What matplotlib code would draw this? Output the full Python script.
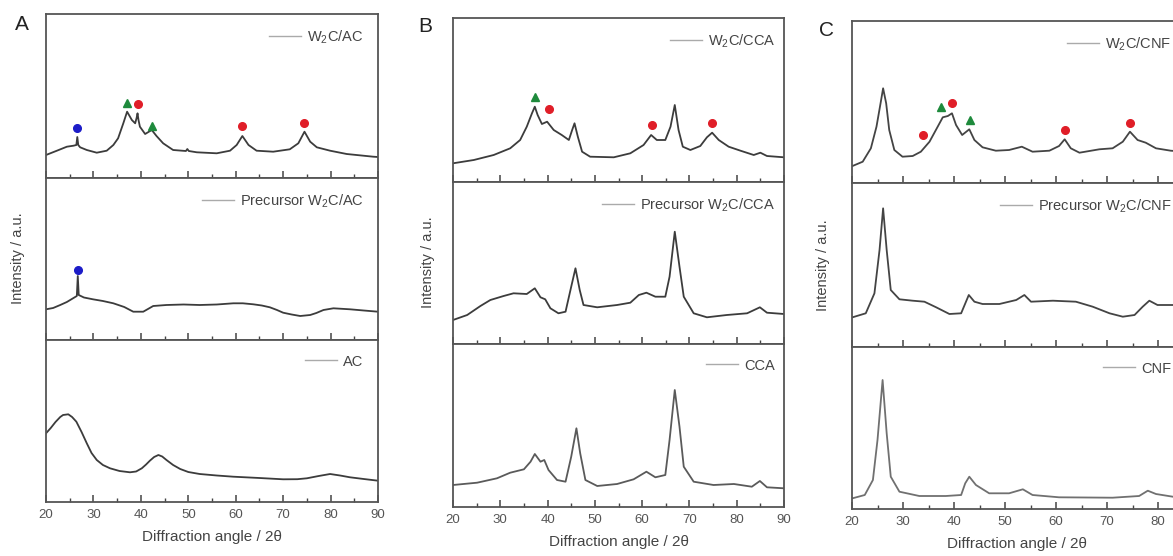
import matplotlib
matplotlib.use("Agg")
import matplotlib.pyplot as plt
from matplotlib.ticker import MultipleLocator, FixedLocator, FixedFormatter

plt.rcParams['font.family'] = ['Liberation Sans', 'DejaVu Sans']
plt.rcParams['mathtext.default'] = 'regular'

# ---------------- data (intensity, a.u.) ----------------
# Panel A
a_top_x = [20, 22.3, 24.4, 25.8, 26.4, 26.6, 26.8, 27.2, 28.6, 30.7, 32.8, 34.2, 35.2, 36.3, 37.1, 38.1, 38.8,
           39.1, 39.3, 39.5, 39.8, 40.9, 42.3, 43.3, 44.7, 46.8, 49.5, 49.8, 50.1, 51.8, 56, 58.8, 60.2, 61.4,
           62.7, 64.4, 67.9, 71.4, 73.2, 74.5, 75.7, 77.1, 79.9, 83.4, 89, 90]
a_top_y = [23, 27.3, 31.3, 32.3, 33, 41, 33, 30.7, 28, 25.3, 27.3, 33, 39.7, 54.7, 66.3, 58, 54.7,
           60, 64.7, 58, 51.3, 44, 48, 42, 34.7, 28, 27, 29, 27, 25.7, 24.7, 27.3, 33, 42,
           33, 27.3, 26.3, 28.7, 34.7, 46.3, 36.3, 30.7, 27.3, 24, 21.3, 21]
a_mid_x = [20, 21.5, 23, 24.4, 25.8, 26.5, 26.7, 26.9, 28, 29.9, 32, 34.2, 36.5, 38.4, 40.5, 41.5, 42.6, 45.4,
           49, 52.4, 56, 59.5, 61.5, 63.7, 65.5, 67.2, 68.7, 70, 71.8, 73.6, 75.7, 77, 78.5, 80.6, 84.1, 87, 90]
a_mid_y = [30.7, 32, 35, 38, 42, 44, 64, 45, 42.5, 40.7, 39, 36.7, 33, 28.3, 28.3, 31, 34, 35,
           35.5, 35, 35.5, 36.7, 36.7, 35.7, 34.5, 32.7, 30, 27.3, 25.5, 24, 25, 27, 30, 31.7, 30.7, 29.5, 28.3]
a_bot_x = [20, 21, 22, 23, 23.6, 24.7, 25.5, 26.4, 27.5, 28.6, 29.6, 30.7, 32, 33.5, 35.5, 37.7, 39, 40.2,
           41.1, 41.9, 42.8, 43.7, 44.5, 45.4, 46.8, 48.3, 50, 52.4, 56, 59.5, 65, 70, 73, 75, 77.5, 79.9,
           82, 84.1, 87, 90]
a_bot_y = [68.7, 74, 80, 85, 87, 87.7, 85, 80.3, 70, 58.7, 49, 42, 37, 33.7, 31, 29.7, 30.5, 33.7,
           37.5, 41.3, 45, 47, 45.5, 42, 37, 33, 30, 28, 26.5, 25.3, 24, 22.7, 22.8, 23.7, 26, 28,
           26.5, 24.7, 23, 21.3]

# Panel B
b_top_x = [20, 24.4, 28.6, 32.1, 34.2, 35.6, 36.7, 37.3, 37.9, 38.8, 39.9, 41.3, 43, 44.5, 45.2, 45.7, 46.4,
           47.3, 49, 54, 57.5, 60.3, 61.9, 63.1, 64.9, 66, 66.9, 67.7, 68.6, 70.2, 72.3, 73.7, 74.8, 76.2,
           78.3, 80.8, 83.6, 85, 86.4, 90]
b_top_y = [18.7, 22, 27, 33.7, 42, 55.3, 68.7, 75.3, 67, 58, 60.3, 52, 47, 42, 52, 58.7, 45.3,
           30.3, 25.3, 24.7, 28.7, 37, 47, 42, 42, 55.3, 77, 52, 35.3, 32, 36, 44.7, 49.3, 42,
           35.3, 31.3, 27, 29.3, 26, 24.7]
b_mid_x = [20, 23, 25.8, 27.9, 30.7, 32.8, 35.6, 37.3, 38.5, 39.5, 40.6, 42.3, 43.8, 45, 45.9, 46.8, 47.6,
           50.5, 54.7, 57.5, 59.3, 60.9, 62.8, 64.9, 65.8, 66.9, 67.9, 68.8, 70.9, 73.7, 77.9, 82.2, 84.9,
           86.4, 90]
b_mid_y = [24, 29, 38, 44, 48, 50.7, 50, 55.7, 46.7, 44.7, 35.7, 30.7, 32.3, 57.3, 75.7, 54, 39,
           36.7, 39, 41.3, 49, 51.3, 47.3, 47.3, 67.3, 112.3, 77.3, 47.3, 30.7, 26.7, 29, 30.7, 36.7,
           31.3, 30]
b_bot_x = [20, 25.1, 29.3, 32.1, 35, 36.4, 37.3, 38.5, 39.3, 40.2, 42, 43.8, 45, 46.1, 46.9, 48, 50.5,
           54.7, 58.2, 60.9, 62.8, 64.9, 65.8, 66.9, 67.9, 68.8, 70.9, 75.1, 79.4, 83.2, 84.9, 86.4, 90]
b_bot_y = [22, 24.3, 28.7, 34.3, 37.7, 45.3, 53, 45.3, 47, 37, 27, 25.3, 50.3, 78.7, 53.7, 27, 21,
           23, 27.7, 35.3, 29.7, 32, 67, 117, 80.3, 40.3, 25.3, 22, 23, 20.3, 26, 19.7, 18.7]

# Panel C
c_top_x = [20.1, 22.1, 23.7, 24.8, 25.6, 26.1, 26.7, 27.3, 28.3, 29.9, 31.9, 33.5, 35.2, 36.8, 37.8, 38.8,
           39.6, 40.4, 41.6, 43, 44, 45.6, 48.2, 50.8, 53.3, 55.4, 58.7, 60.6, 61.7, 62.9, 64.6, 68.5, 71.1,
           73.1, 74.5, 76, 77.6, 79.6, 82.5, 86, 90]
c_top_y = [17, 21.3, 34.7, 56.3, 79.7, 94.7, 79.7, 53, 33, 26.3, 27, 31.3, 41.3, 56.3, 65.7, 67,
           69.7, 58, 48, 53.7, 43, 35.7, 32.3, 33, 36.3, 31.3, 32.3, 37, 43.7, 34.7, 30.3, 33.7, 34.7,
           41.3, 51.3, 43, 40.3, 34.7, 32.3, 31, 30]
c_mid_x = [20.1, 22.7, 24.4, 25.4, 26.1, 26.8, 27.6, 29.3, 31.9, 34.2, 36.5, 39.1, 41.4, 42.9, 44, 45.6,
           48.9, 52.2, 53.8, 55.1, 59.4, 63.9, 67.2, 70.5, 73.1, 75.4, 77, 78.3, 79.9, 82.9, 86, 90]
c_mid_y = [29.7, 33.7, 53.7, 97, 138.7, 97, 57, 47.7, 46.3, 45.3, 39.7, 33, 33.7, 52, 45.3, 43,
           43, 47, 52, 45.3, 46.3, 45.3, 40.3, 33.7, 30.3, 32, 40.3, 46.3, 42, 42, 41, 40]
c_bot_x = [20.1, 22.5, 24.1, 25, 26, 26.8, 27.6, 29.3, 33.2, 38.4, 41.4, 42.2, 43, 44.3, 46.9, 50.8, 53.5,
           55.4, 60.6, 71.1, 76.3, 78, 79.6, 82.9, 86, 90]
c_bot_y = [10.7, 14, 29, 69, 129, 75.7, 32.3, 17.3, 13, 13, 14, 25.7, 32.3, 24, 15.7, 15.7, 19.7,
           14, 11.7, 11.3, 13, 18.3, 15, 12.3, 11.5, 11]

# Peak markers: (x positions, y positions) per phase
a_top_blue = ([26.6], [50.3])
a_top_red = ([39.3, 61.4, 74.3], [73.7, 52, 54.7])
a_top_green = ([37.0, 42.3], [74.7, 52])
a_mid_blue = ([26.7], [70])
b_top_red = ([40.4, 62.1, 74.8], [73, 57, 59.3])
b_top_green = ([37.3], [84.7])
c_top_red = ([34, 39.6, 61.7, 74.6], [48, 79.7, 53, 59.7])
c_top_green = ([37.5, 43.1], [76.3, 63])

labels_a = ['W$_2$C/AC', 'Precursor W$_2$C/AC', 'AC']
labels_b = ['W$_2$C/CCA', 'Precursor W$_2$C/CCA', 'CCA']
labels_c = ['W$_2$C/CNF', 'Precursor W$_2$C/CNF', 'CNF']

tick_vals = [20, 30, 40, 50, 60, 70, 80, 90]
tick_labels_full = ['20', '30', '40', '50', '60', '70', '80', '90']
tick_labels_c = ['20', '30', '40', '50', '60', '70', '80', '']   # 90 lies beyond the cropped edge

# ---------------- layout ----------------
W, H = 1173, 556
fig = plt.figure(figsize=(W / 100, H / 100), dpi=100)


def rect(left, top, width, bottom):
    return [left / W, (H - bottom) / H, width / W, (bottom - top) / H]


panels = [
    dict(left=46, width=332, rows=[(14, 178), (178, 340), (340, 502)],
         curves=[(a_top_x, a_top_y), (a_mid_x, a_mid_y), (a_bot_x, a_bot_y)],
         colors=['#3c3c3c', '#3c3c3c', '#3c3c3c'], labels=labels_a, ticklabels=tick_labels_full,
         letter='A', letter_xy=(22, 25), ylab_x=18, leg_anchor=1.0, xlab_x=0.5),
    dict(left=453, width=331, rows=[(18, 182), (182, 344), (344, 507)],
         curves=[(b_top_x, b_top_y), (b_mid_x, b_mid_y), (b_bot_x, b_bot_y)],
         colors=['#3c3c3c', '#3c3c3c', '#5a5a5a'], labels=labels_b, ticklabels=tick_labels_full,
         letter='B', letter_xy=(425, 27), ylab_x=428, leg_anchor=1.017, xlab_x=0.5),
    dict(left=852, width=357, rows=[(21, 183), (183, 347), (347, 509)],
         curves=[(c_top_x, c_top_y), (c_mid_x, c_mid_y), (c_bot_x, c_bot_y)],
         colors=['#444444', '#444444', '#707070'], labels=labels_c, ticklabels=tick_labels_c,
         letter='C', letter_xy=(826, 30), ylab_x=823, leg_anchor=0.935, xlab_x=0.462),
]

marker_sets = {
    ('A', 0): [(a_top_blue, 'o', '#1c1cc8'), (a_top_red, 'o', '#e01e28'), (a_top_green, '^', '#1e8a3c')],
    ('A', 1): [(a_mid_blue, 'o', '#1c1cc8')],
    ('B', 0): [(b_top_red, 'o', '#e01e28'), (b_top_green, '^', '#1e8a3c')],
    ('C', 0): [(c_top_red, 'o', '#e01e28'), (c_top_green, '^', '#1e8a3c')],
}

for p in panels:
    for i, ((top, bot), (xs, ys)) in enumerate(zip(p['rows'], p['curves'])):
        ax = fig.add_axes(rect(p['left'], top, p['width'], bot))
        ax.plot(xs, ys, color=p['colors'][i], lw=1.3, label=p['labels'][i])
        for (mx, my), mk, mc in marker_sets.get((p['letter'], i), []):
            ax.plot(mx, my, linestyle='none', marker=mk, ms=5.5, color=mc, mec=mc)
        ax.set_xlim(20, 90)
        ax.set_ylim(0, bot - top)
        ax.set_yticks([])
        ax.xaxis.set_major_locator(FixedLocator(tick_vals))
        ax.xaxis.set_major_formatter(FixedFormatter(p['ticklabels']))
        ax.xaxis.set_minor_locator(MultipleLocator(5))
        ax.tick_params(axis='x', which='major', direction='in', length=5, width=1.1,
                       color='#444444', labelsize=9.5, labelcolor='#555555', pad=5)
        ax.tick_params(axis='x', which='minor', direction='in', length=3, width=1.0, color='#444444')
        for s in ax.spines.values():
            s.set_color('#555555')
            s.set_linewidth(1.3)
        if i < 2:
            ax.tick_params(axis='x', labelbottom=False)
        else:
            ax.set_xlabel('Diffraction angle / 2θ', fontsize=11, color='#444444', labelpad=8)
            ax.xaxis.set_label_coords(p['xlab_x'], -0.17)
        leg = ax.legend(loc='upper right', bbox_to_anchor=(p['leg_anchor'], 1.0), frameon=False,
                        fontsize=10.5, handlelength=2.2, handletextpad=0.4, borderaxespad=0.6)
        leg.get_lines()[0].set_color('#aaaaaa')
        leg.get_lines()[0].set_linewidth(1.0)
        for t in leg.get_texts():
            t.set_color('#444444')
    lx, ly = p['letter_xy']
    fig.text(lx / W, 1 - ly / H, p['letter'], fontsize=15, ha='center', va='center', color='#222222')
    ytop, ybot = p['rows'][0][0], p['rows'][2][1]
    fig.text(p['ylab_x'] / W, 1 - (ytop + ybot) / 2 / H, 'Intensity / a.u.', rotation=90,
             fontsize=10.5, ha='center', va='center', color='#444444')

fig.savefig('out.png', dpi=100)
